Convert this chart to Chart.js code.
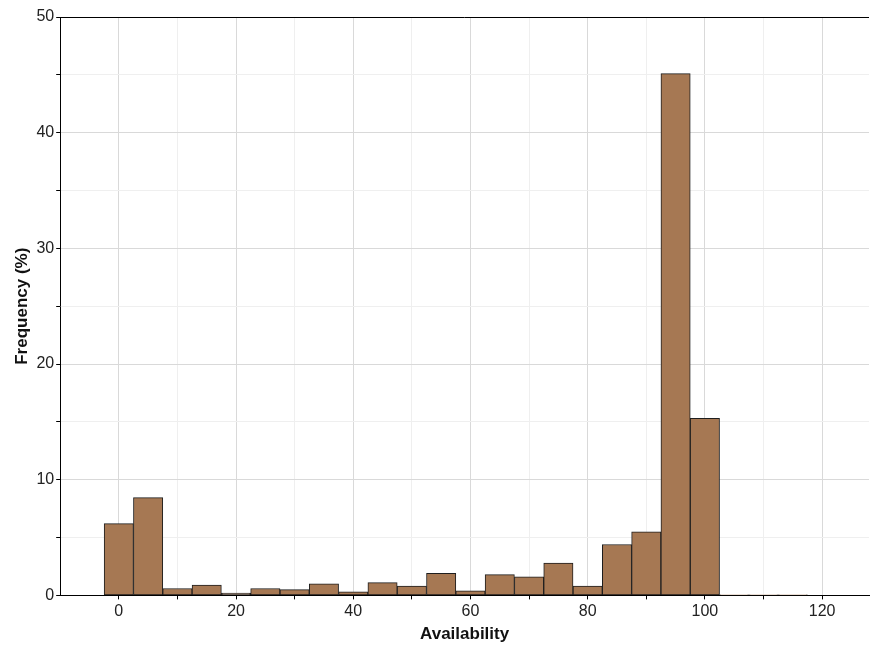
<!DOCTYPE html>
<html>
<head>
<meta charset="utf-8">
<script src="https://cdn.jsdelivr.net/npm/chart.js@4"></script>
<style>
  body { margin: 0; background: #fff; }
  #wrap { width: 870px; height: 645px; }
</style>
</head>
<body>
<div id="wrap"><canvas id="histChart" width="870" height="645"></canvas></div>
<script>
// bin centres (bin width 5) and frequency in %
const binCenters = [0, 5, 10, 15, 20, 25, 30, 35, 40, 45, 50, 55, 60, 65, 70, 75, 80, 85, 90, 95, 100, 105, 110, 115];
const frequency = [6.2, 8.45, 0.6, 0.9, 0.2, 0.6, 0.5, 1.0, 0.3, 1.1, 0.8, 1.9, 0.4, 1.8, 1.6, 2.8, 0.8, 4.4, 5.5, 45.1, 15.3, 0.05, 0.05, 0.05];
const xTicks = [0, 10, 20, 30, 40, 50, 60, 70, 80, 90, 100, 110, 120];
const yTicks = [0, 5, 10, 15, 20, 25, 30, 35, 40, 45, 50];

const points = binCenters.map((x, i) => ({ x: x, y: frequency[i] }));

// top frame line
const topBorder = {
  id: 'topBorder',
  afterDraw(chart) {
    const { ctx, chartArea } = chart;
    ctx.save();
    ctx.strokeStyle = '#000';
    ctx.lineWidth = 1;
    ctx.beginPath();
    ctx.moveTo(chartArea.left, chartArea.top + 0.5);
    ctx.lineTo(chartArea.right, chartArea.top + 0.5);
    ctx.stroke();
    ctx.restore();
  }
};

const ctx = document.getElementById('histChart').getContext('2d');
new Chart(ctx, {
  type: 'bar',
  data: {
    datasets: [{
      data: points,
      backgroundColor: '#a67853',
      borderColor: '#1e1e1e',
      borderWidth: 1,
      borderSkipped: false,
      barPercentage: 1,
      categoryPercentage: 1
    }]
  },
  options: {
    responsive: false,
    animation: false,
    layout: { padding: { top: 17, right: 1, left: 12, bottom: 0 } },
    plugins: { legend: { display: false }, tooltip: { enabled: false } },
    scales: {
      x: {
        type: 'linear',
        min: -10,
        max: 128,
        offset: false,
        afterBuildTicks: scale => { scale.ticks = xTicks.map(v => ({ value: v })); },
        grid: {
          offset: false,
          color: c => (c.tick && c.tick.value % 20 === 0) ? '#d9d9d9' : '#efefef',
          tickColor: '#000',
          tickLength: 4
        },
        border: { color: '#000', width: 1 },
        ticks: {
          autoSkip: false,
          maxRotation: 0,
          color: '#222',
          font: { family: 'Liberation Sans, Arial', size: 16 },
          callback: v => (v % 20 === 0 ? v : '')
        },
        title: {
          display: true,
          text: 'Availability',
          color: '#111',
          font: { family: 'Liberation Sans, Arial', size: 17, weight: 'bold' },
          padding: { top: 0, bottom: 0 }
        }
      },
      y: {
        min: 0,
        max: 50,
        afterBuildTicks: scale => { scale.ticks = yTicks.map(v => ({ value: v })); },
        grid: {
          color: c => (c.tick && c.tick.value % 10 === 0) ? '#d9d9d9' : '#efefef',
          tickColor: '#000',
          tickLength: 4
        },
        border: { color: '#000', width: 1 },
        ticks: {
          autoSkip: false,
          color: '#222',
          font: { family: 'Liberation Sans, Arial', size: 16 },
          padding: 2,
          callback: v => (v % 10 === 0 ? v : '')
        },
        title: {
          display: true,
          text: 'Frequency (%)',
          color: '#111',
          font: { family: 'Liberation Sans, Arial', size: 17, weight: 'bold' },
          padding: { top: 0, bottom: 2 }
        }
      }
    }
  },
  plugins: [topBorder]
});
</script>
</body>
</html>
